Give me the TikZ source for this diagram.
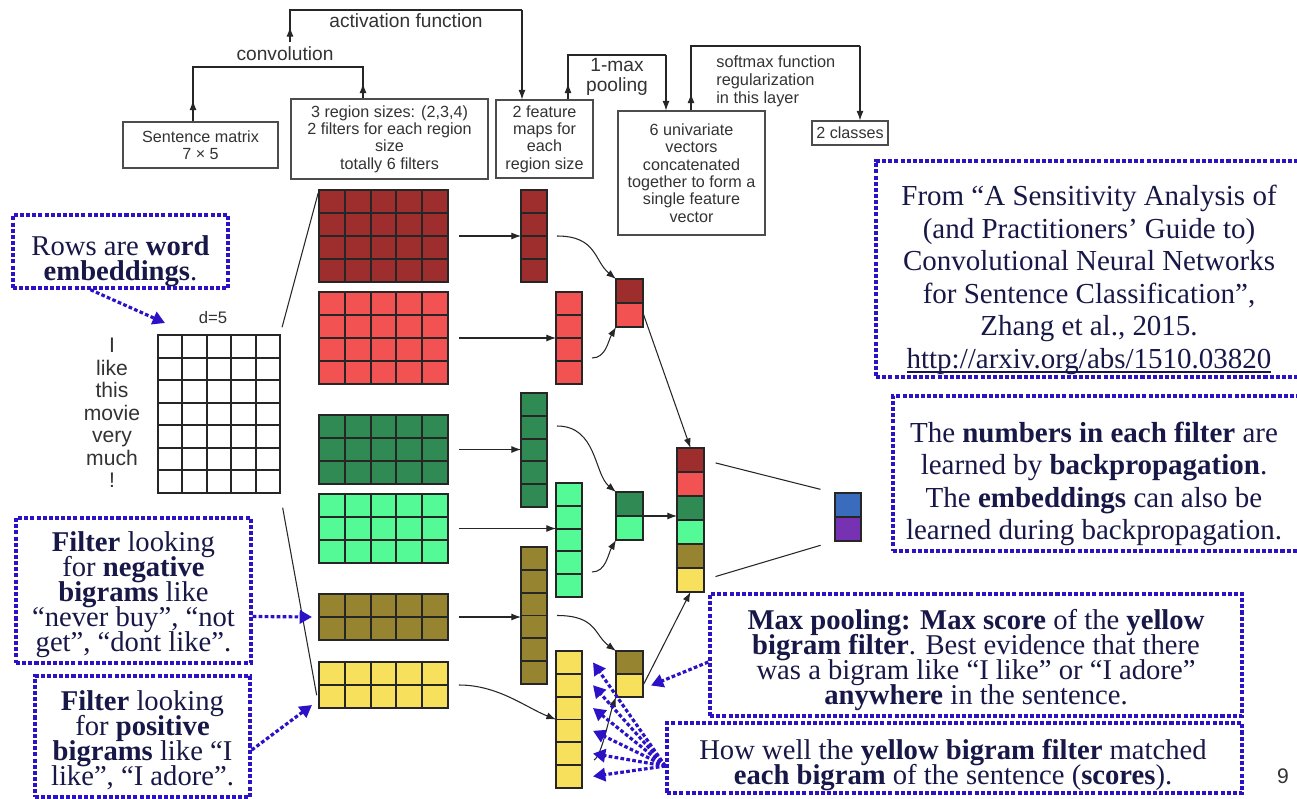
\documentclass[tikz,border=0pt]{standalone}
\usepackage{fontspec}
\setmainfont{Liberation Serif}
\setsansfont{Liberation Sans}
\usetikzlibrary{arrows.meta}
\usetikzlibrary{calc}
\usetikzlibrary{positioning}

\definecolor{cdred}{RGB}{158,46,46}
\definecolor{cred}{RGB}{242,82,82}
\definecolor{cdgreen}{RGB}{48,138,84}
\definecolor{cgreen}{RGB}{84,250,150}
\definecolor{colive}{RGB}{150,132,48}
\definecolor{cyellow}{RGB}{246,224,92}
\definecolor{cblue}{RGB}{58,108,190}
\definecolor{cpurple}{RGB}{118,50,178}
\definecolor{dotblue}{RGB}{44,18,198}
\definecolor{notetext}{RGB}{24,24,72}

\newcommand\notefont{\fontsize{16.3}{14.2}\selectfont\lineskiplimit=-20pt\relax}
\newcommand\widenotefont{\fontsize{16.5}{18.5}\selectfont}
\newcommand\urlline[1]{\setbox0\hbox{#1}\rlap{\rule[-2.6pt]{\wd0}{0.9pt}}\box0}

\tikzset{
  cells/.style n args={3}{draw=black!85, line width=0.8pt, fill=#1,
    inner sep=0pt, outer sep=0pt, anchor=north west,
    path picture={
      \foreach \k in {1,...,#2}
        \draw[black!85, line width=1.1pt]
          ($(path picture bounding box.north west)!\k/#2!(path picture bounding box.north east)$) --
          ($(path picture bounding box.south west)!\k/#2!(path picture bounding box.south east)$);
      \foreach \k in {1,...,#3}
        \draw[black!85, line width=1.1pt]
          ($(path picture bounding box.north west)!\k/#3!(path picture bounding box.south west)$) --
          ($(path picture bounding box.north east)!\k/#3!(path picture bounding box.south east)$);
    }},
  cellunit/.style={minimum width=0.54cm, minimum height=0.48cm},
  flow box/.style={draw=black!70, line width=0.6pt, align=center, inner sep=1pt,
    font=\sffamily\fontsize{9.2}{9.9}\selectfont, text=black!80},
  flow label/.style={font=\sffamily\fontsize{10.9}{11.4}\selectfont, text=black!80,
    align=center, inner sep=0pt},
  note box/.style={draw=dotblue, line width=2pt, dash pattern=on 2.3pt off 1.2pt,
    inner sep=0pt},
  note text/.style={align=center, text=notetext, inner sep=0pt, font=\notefont},
  note arrow/.style={draw=dotblue, line width=1.8pt, dash pattern=on 2.1pt off 1.3pt,
    -{Triangle[length=7pt,width=7.5pt]}},
  link/.style={black!85, line width=0.6pt},
}

\begin{document}
\begin{tikzpicture}[x=0.02cm, y=-0.02cm, >={Latex[length=5.5pt,width=4pt]}]
  \fill[white] (0,0) rectangle (1297,798);
  \useasboundingbox (0,0) rectangle (1297,798);

  % processing steps along the top
  \node[flow box, minimum width=3.1cm, minimum height=0.92cm] (sm) at (200.5,145) {Sentence matrix\\7 × 5};
  \node[flow box, minimum width=3.94cm, minimum height=1.6cm] (rs) at (389.5,139) {3 region sizes: (2,3,4)\\2 filters for each region\\size\\totally 6 filters};
  \node[flow box, minimum width=1.94cm, minimum height=1.56cm] (fm) at (544.5,139) {2 feature\\maps for\\each\\region size};
  \node[flow box, minimum width=2.94cm, minimum height=2.48cm] (uv) at (691.5,173) {6 univariate\\vectors\\concatenated\\together to form a\\single feature\\vector};
  \node[flow box, minimum width=1.52cm, minimum height=0.48cm] (cl) at (850,133) {2 classes};

  \coordinate (cvl) at (193,67);
  \coordinate (cvr) at (363,67);
  \coordinate (afs) at (290,42);
  \coordinate (afl) at (290,10);
  \coordinate (afr) at (522,10);
  \coordinate (mpl) at (568,55);
  \coordinate (mpr) at (666,55);
  \coordinate (sfl) at (691,46);
  \coordinate (sfr) at (860,46);

  \draw[link] (sm.north -| cvl) -- (cvl) -- (cvr) -- (rs.north -| cvr);
  \draw[link,->] (sm.north -| cvl) -- ++(0,-21);
  \draw[link,->] (rs.north -| cvr) -- ++(0,-15);
  \node[flow label] (cv) at (285,54) {convolution};

  \draw[link] (afs) -- (afl) -- (afr);
  \draw[link,->] (afs) -- ++(0,-15);
  \draw[link,->] (afr) -- (fm.north -| afr);
  \node[flow label] (af) at (406,21) {activation function};

  \draw[link] (fm.north -| mpl) -- (mpl) -- (mpr);
  \draw[link,->] (fm.north -| mpl) -- ++(0,-16);
  \draw[link,->] (mpr) -- (uv.north -| mpr);
  \node[flow label] (mx) at (617,77) {1-max\\pooling};

  \draw[link] (uv.north -| sfl) -- (sfl) -- (sfr);
  \draw[link,->] (uv.north -| sfl) -- ++(0,-17);
  \draw[link,->] (sfr) -- (cl.north -| sfr);
  \node[font=\sffamily\fontsize{9.3}{10.2}\selectfont, text=black!80, align=left,
        anchor=west, inner sep=0pt] (sf) at (716,81) {softmax function\\regularization\\in this layer};

  % sentence matrix
  \node[cells={white}{5}{7}, minimum width=2.44cm, minimum height=3.16cm] (s) at (158,335) {};
  \node[font=\sffamily\fontsize{12}{12.85}\selectfont, text=black!80, align=center,
        inner sep=0pt] (words) at (112,413) {I\\like\\this\\movie\\very\\much\\!};
  \node[font=\sffamily\fontsize{9.5}{10}\selectfont, text=black!80, inner sep=0pt] (dim) at (213,318) {d=5};

  % filters
  \node[cells={cdred}{5}{4}, minimum width=2.58cm, minimum height=1.84cm] (f1) at (319,190) {};
  \node[cells={cred}{5}{4}, minimum width=2.58cm, minimum height=1.84cm] (f2) at (319,292) {};
  \node[cells={cdgreen}{5}{3}, minimum width=2.58cm, minimum height=1.38cm] (f3) at (319,415) {};
  \node[cells={cgreen}{5}{3}, minimum width=2.58cm, minimum height=1.38cm] (f4) at (319,494) {};
  \node[cells={colive}{5}{2}, minimum width=2.58cm, minimum height=0.92cm] (f5) at (319,594) {};
  \node[cells={cyellow}{5}{2}, minimum width=2.58cm, minimum height=0.92cm] (f6) at (319,662) {};

  % feature maps
  \node[cells={cdred}{1}{4}, minimum width=0.52cm, minimum height=1.84cm] (m1) at (521,190) {};
  \node[cells={cred}{1}{4}, minimum width=0.52cm, minimum height=1.84cm] (m2) at (556,292) {};
  \node[cells={cdgreen}{1}{5}, minimum width=0.52cm, minimum height=2.28cm] (m3) at (521,393) {};
  \node[cells={cgreen}{1}{5}, minimum width=0.52cm, minimum height=2.28cm] (m4) at (556,483) {};
  \node[cells={colive}{1}{6}, minimum width=0.52cm, minimum height=2.74cm] (m5) at (521,547) {};
  \node[cells={cyellow}{1}{6}, minimum width=0.52cm, minimum height=2.74cm] (m6) at (556,651) {};

  % pooled pairs
  \node[cells={cdred}{1}{1}, cellunit] (p1) at (616,279) {};
  \node[cells={cred}{1}{1}, cellunit, below=0pt of p1] (p2) {};
  \node[cells={cdgreen}{1}{1}, cellunit] (p3) at (616,492) {};
  \node[cells={cgreen}{1}{1}, cellunit, below=0pt of p3] (p4) {};
  \node[cells={colive}{1}{1}, cellunit, minimum height=0.46cm] (p5) at (616,651) {};
  \node[cells={cyellow}{1}{1}, cellunit, minimum height=0.46cm, below=0pt of p5] (p6) {};

  % concatenated vector
  \node[cells={cdred}{1}{1}, cellunit] (c1) at (677,448) {};
  \node[cells={cred}{1}{1}, cellunit, below=0pt of c1] (c2) {};
  \node[cells={cdgreen}{1}{1}, cellunit, below=0pt of c2] (c3) {};
  \node[cells={cgreen}{1}{1}, cellunit, below=0pt of c3] (c4) {};
  \node[cells={colive}{1}{1}, cellunit, below=0pt of c4] (c5) {};
  \node[cells={cyellow}{1}{1}, cellunit, below=0pt of c5] (c6) {};

  % output
  \node[cells={cblue}{1}{1}, cellunit, minimum width=0.52cm] (o1) at (835,493) {};
  \node[cells={cpurple}{1}{1}, cellunit, minimum width=0.52cm, below=0pt of o1] (o2) {};

  % connections
  \draw[link, shorten <=0.16cm, shorten >=0.06cm] (s.north east) -- (f1.north west);
  \draw[link, shorten <=0.3cm, shorten >=0.26cm] (s.south east) -- (f6.south west);

  \draw[link,->,shorten <=0.22cm] (f1.east) -- (m1.west);
  \draw[link,->,shorten <=0.22cm] (f2.east) -- (m2.west);
  \draw[link,->,shorten <=0.22cm] (f3.east) -- (f3.east -| m3.west);
  \draw[link,->,shorten <=0.22cm] (f4.east) -- (f4.east -| m4.west);
  \draw[link,->,shorten <=0.22cm] (f5.east) -- (f5.east -| m5.west);
  \draw[link,->,shorten <=0.22cm] (f6.east) .. controls +(50,0) and +(-30,-12) .. (m6.west);

  \draw[link,->] ([xshift=0.2cm]m1.east) .. controls +(40,0) and +(-22,-18) .. (p1.north west);
  \draw[link,->] ([xshift=0.2cm,yshift=0.52cm]m2.south east) .. controls +(14,0) and +(-8,14) .. (p2.south west);
  \draw[link,->] ([xshift=0.2cm,yshift=-0.66cm]m3.north east) .. controls +(40,0) and +(-22,-18) .. (p3.north west);
  \draw[link,->] ([xshift=0.2cm,yshift=0.5cm]m4.south east) .. controls +(14,0) and +(-8,14) .. (p4.south west);
  \draw[link,->] ([xshift=0.2cm]m5.east) .. controls +(40,0) and +(-22,-16) .. (p5.north west);
  \draw[link,->] ([xshift=0.24cm,yshift=0.56cm]m6.south east) .. controls +(8,-4) and +(-6,16) .. (p6.south west);

  \draw[link,->] ([yshift=-0.2cm]p2.north east) -- (c1.north);
  \draw[link,->] (p3.south east) -- (p3.south east -| c3.west);
  \draw[link,->] (p6.east) -- (c6.south);

  \draw[link, shorten <=0.24cm, shorten >=0.3cm] (c1.east) -- (o1.north west);
  \draw[link, shorten <=0.24cm, shorten >=0.3cm] (c6.east) -- (o2.south west);

  % notes
  \node[note box, minimum width=4.3cm, minimum height=1.46cm] (rw) at (120.5,251.5) {};
  \node[note text] (rwt) at (120.5,261) {Rows are \textbf{word}\\\textbf{embeddings}.};
  \node[note box, minimum width=4.7cm, minimum height=2.9cm] (ng) at (133.5,590.5) {};
  \node[note text] (ngt) at (133.5,595) {\textbf{Filter} looking\\for \textbf{negative}\\\textbf{bigrams} like\\“never buy”, “not\\get”, “dont like”.};
  \node[note box, minimum width=4.3cm, minimum height=2.42cm] (ps) at (142.5,736.5) {};
  \node[note text] (pst) at (142.5,740) {\textbf{Filter} looking\\for \textbf{positive}\\\textbf{bigrams} like “I\\like”, “I adore”.};
  \node[note box, minimum width=8.52cm, minimum height=4.32cm] (fr) at (1089,269) {};
  \node[note text, font=\widenotefont] (frt) at (1089,280) {From “A Sensitivity Analysis of\\(and Practitioners’ Guide to)\\Convolutional Neural Networks\\for Sentence Classification”,\\Zhang et al., 2015.\\\urlline{http://arxiv.org/abs/1510.03820}};
  \node[note box, minimum width=8.18cm, minimum height=3.1cm] (nb) at (1097.5,473.5) {};
  \node[note text, font=\widenotefont] (nbt) at (1094,484) {The \textbf{numbers in each filter} are\\learned by \textbf{backpropagation}.\\The \textbf{embeddings} can also be\\learned during backpropagation.};
  \node[note box, minimum width=10.64cm, minimum height=2.44cm] (mp) at (976,655) {};
  \node[note text] (mpt) at (976,660) {\textbf{Max pooling: Max score} of the \textbf{yellow}\\\textbf{bigram filter}. Best evidence that there\\was a bigram like “I like” or “I adore”\\\textbf{anywhere} in the sentence.};
  \node[note box, minimum width=11.5cm, minimum height=1.4cm] (hw) at (954.5,758) {};
  \node[note text] (hwt) at (953,765) {How well the \textbf{yellow bigram filter} matched\\\textbf{each bigram} of the sentence (\textbf{scores}).};

  \draw[note arrow] ([xshift=-0.6cm]rw.south) -- ([xshift=0.14cm,yshift=0.24cm]s.north west);
  \draw[note arrow] ([yshift=-0.52cm]ng.east) -- ([xshift=-0.14cm]f5.west);
  \draw[note arrow] ([yshift=-0.27cm]ps.east) -- ([xshift=-0.14cm,yshift=0.06cm]f6.south west);
  \draw[note arrow] ([yshift=-0.14cm]mp.west) -- ([xshift=0.16cm]p6.east);
  \foreach \k [evaluate=\k as \dy using -0.456*\k-0.228] in {0,...,5}
    \draw[note arrow] ([yshift=-0.16cm]hw.west) -- ([xshift=0.22cm,yshift=\dy cm]m6.north east);

  \node[font=\sffamily\fontsize{12}{12}\selectfont, text=black!80] (pg) at (1283,776) {9};
\end{tikzpicture}
\end{document}
